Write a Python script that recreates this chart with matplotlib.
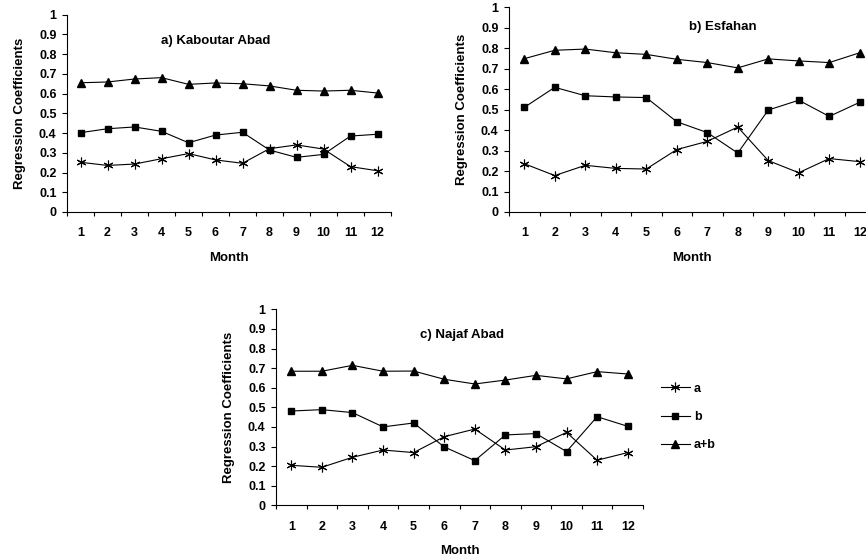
import numpy as np
import matplotlib
matplotlib.use('Agg')
import matplotlib.pyplot as plt
from matplotlib.ticker import FixedLocator, NullFormatter

plt.rcParams['font.family'] = ['Liberation Sans', 'DejaVu Sans']
plt.rcParams['font.weight'] = 'bold'

months = list(range(1, 13))

# a) Kaboutar Abad
kab_a = [0.252, 0.236, 0.243, 0.270, 0.296, 0.264, 0.247, 0.321, 0.340, 0.319, 0.230, 0.209]
kab_b = [0.402, 0.422, 0.431, 0.409, 0.351, 0.390, 0.404, 0.314, 0.277, 0.292, 0.385, 0.394]
kab_ab = [0.655, 0.659, 0.674, 0.681, 0.647, 0.654, 0.650, 0.639, 0.617, 0.613, 0.617, 0.603]

# b) Esfahan
esf_a = [0.236, 0.178, 0.228, 0.213, 0.210, 0.305, 0.345, 0.415, 0.251, 0.192, 0.261, 0.246]
esf_b = [0.511, 0.609, 0.568, 0.562, 0.559, 0.441, 0.388, 0.288, 0.498, 0.546, 0.467, 0.536]
esf_ab = [0.749, 0.790, 0.796, 0.778, 0.770, 0.746, 0.730, 0.704, 0.748, 0.738, 0.730, 0.778]

# c) Najaf Abad
naj_a = [0.204, 0.194, 0.245, 0.282, 0.269, 0.350, 0.389, 0.282, 0.299, 0.372, 0.230, 0.269]
naj_b = [0.481, 0.488, 0.473, 0.400, 0.420, 0.298, 0.228, 0.359, 0.366, 0.274, 0.452, 0.403]
naj_ab = [0.684, 0.684, 0.714, 0.684, 0.685, 0.643, 0.619, 0.639, 0.663, 0.645, 0.682, 0.670]

W, H = 866, 557
fig = plt.figure(figsize=(W / 100, H / 100), dpi=100)


def px_axes(x0, x1, ytop, ybot):
	return fig.add_axes([x0 / W, 1 - ybot / H, (x1 - x0) / W, (ybot - ytop) / H])


star = (6, 2, 0)
fs = 9
lfs = 9.5


def panel(ax, a, b, ab, title, tx, ty):
	ha, = ax.plot(months, a, color='black', lw=0.8, marker=star, ms=7, mew=0.8, label='a')
	hb, = ax.plot(months, b, color='black', lw=0.8, marker='s', ms=5, label='b')
	hab, = ax.plot(months, ab, color='black', lw=0.8, marker='^', ms=5.5, label='a+b')
	ax.set_xlim(0.5, 12.5)
	ax.set_ylim(0, 1)
	ax.set_yticks(np.arange(0, 1.01, 0.1))
	ax.set_yticklabels(['0'] + ['%.1f' % v for v in np.arange(0.1, 0.95, 0.1)] + ['1'])
	ax.set_xticks(months)
	ax.set_xticklabels([str(m) for m in months])
	ax.xaxis.set_minor_locator(FixedLocator(np.arange(0.5, 12.6, 1)))
	ax.xaxis.set_minor_formatter(NullFormatter())
	ax.tick_params(axis='x', which='major', length=0, pad=11, labelsize=fs)
	ax.tick_params(axis='x', which='minor', length=3, width=0.8, direction='out')
	ax.tick_params(axis='y', length=3.5, width=0.8, direction='out', labelsize=fs, pad=4)
	for s in ['top', 'right']:
		ax.spines[s].set_visible(False)
	for s in ['left', 'bottom']:
		ax.spines[s].set_linewidth(0.8)
	ax.set_xlabel('Month', fontsize=lfs, fontweight='bold', labelpad=9)
	ax.set_ylabel('Regression Coefficients', fontsize=lfs, fontweight='bold', labelpad=9)
	ax.text(tx, ty, title, transform=ax.transAxes, ha='center', va='center',
		fontsize=lfs, fontweight='bold')
	return ha, hb, hab


ax1 = px_axes(67, 391, 14.7, 212)
panel(ax1, kab_a, kab_b, kab_ab, 'a) Kaboutar Abad', 0.46, 0.867)

ax2 = px_axes(509, 875, 7.3, 212)
panel(ax2, esf_a, esf_b, esf_ab, 'b) Esfahan', 0.585, 0.902)

ax3 = px_axes(276, 643, 309.3, 505.3)
handles = panel(ax3, naj_a, naj_b, naj_ab, 'c) Najaf Abad', 0.506, 0.867)

fig.legend(handles=handles, loc='center left', bbox_to_anchor=(661 / W, 1 - 417 / H),
	frameon=False, borderaxespad=0, borderpad=0,
	handlelength=2.3, handletextpad=0.35, labelspacing=1.3,
	prop={'weight': 'bold', 'size': fs})

fig.savefig('out.png', dpi=100)
